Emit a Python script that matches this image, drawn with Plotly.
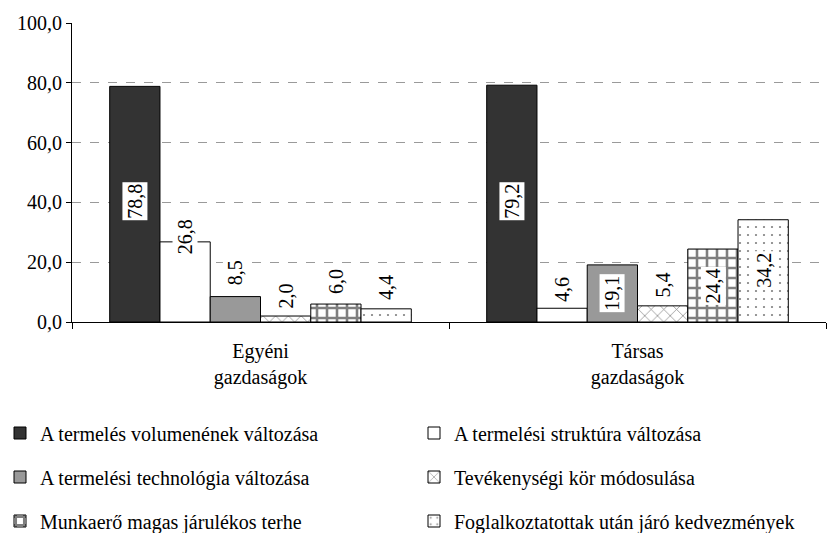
import plotly.graph_objects as go

# Categories and series
categories = ['Egyéni<br>gazdaságok', 'Társas<br>gazdaságok']
series_names = [
    'A termelés volumenének változása',
    'A termelési struktúra változása',
    'A termelési technológia változása',
    'Tevékenységi kör módosulása',
    'Munkaerő magas járulékos terhe',
    'Foglalkoztatottak után járó kedvezmények',
]
values = [
    [78.8, 79.2],
    [26.8, 4.6],
    [8.5, 19.1],
    [2.0, 5.4],
    [6.0, 24.4],
    [4.4, 34.2],
]
# where the value labels sit
label_y = [
    [40.5, 40.5],
    [28.4, 10.7],
    [16.4, 9.6],
    [8.7, 12.4],
    [13.7, 12.2],
    [11.4, 17.2],
]

fill_colors = ['#333333', 'white', '#999999', 'white', 'white', 'white']
patterns = [
    dict(shape=''),
    dict(shape=''),
    dict(shape=''),
    dict(shape='x', fgcolor='black', bgcolor='white', size=9, solidity=0.15),
    dict(shape='+', fgcolor='black', bgcolor='white', size=10, solidity=0.45),
    dict(shape='.', fgcolor='black', bgcolor='white', size=8, solidity=0.06),
]
# one legend per entry: two columns, three rows
legend_ids = ['legend', 'legend2', 'legend3', 'legend4', 'legend5', 'legend6']
legend_x = [0, 414]
legend_rows = [433, 477, 521]

fig = go.Figure()
for i, name in enumerate(series_names):
    fig.add_trace(go.Bar(
        x=categories,
        y=values[i],
        name=name,
        marker=dict(color=fill_colors[i], line=dict(color='black', width=1),
                    pattern=patterns[i]),
        legend=legend_ids[i],
        showlegend=True,
    ))

# rotated value labels
bar_w = 0.8 / len(series_names)
for i in range(len(series_names)):
    for g in range(len(categories)):
        fig.add_annotation(
            x=g + (i - 2.5) * bar_w,
            y=label_y[i][g],
            xref='x', yref='y',
            text=f'{values[i][g]:.1f}'.replace('.', ','),
            textangle=-90,
            showarrow=False,
            bgcolor='white',
            borderpad=1,
            font=dict(size=20, color='black'),
        )

font = 'Liberation Serif'
W, H = 833, 533
legends = {}
for i, lid in enumerate(legend_ids):
    legends[lid] = dict(
        orientation='v', xref='container', yref='container',
        x=legend_x[i % 2] / W, y=1 - legend_rows[i // 2] / H,
        xanchor='left', yanchor='middle',
        font=dict(size=20, color='black', family=font), itemwidth=30,
        bgcolor='rgba(0,0,0,0)',
    )

fig.update_layout(
    width=W, height=H,
    margin=dict(l=72, r=7, t=23, b=211, autoexpand=False),
    barmode='group', bargap=0.2, bargroupgap=0,
    plot_bgcolor='white', paper_bgcolor='white',
    font=dict(family=font, size=20, color='black'),
    separators=', ',
    showlegend=True,
    **legends,
)
fig.update_yaxes(
    range=[0, 100], dtick=20, tickformat='.1f',
    showline=True, linecolor='black', linewidth=1,
    ticks='outside', ticklen=5, tickcolor='black',
    showgrid=True, gridcolor='#9a9a9a', griddash='dash', gridwidth=1,
    zeroline=False,
)
fig.update_xaxes(
    showline=True, linecolor='black', linewidth=1,
    ticks='outside', ticklen=6, tickcolor='black', tickson='boundaries',
    ticklabelstandoff=11,
    showgrid=False,
)

fig.write_html('out.html', config={'displayModeBar': False},
               post_script="document.body.style.margin='0';")
